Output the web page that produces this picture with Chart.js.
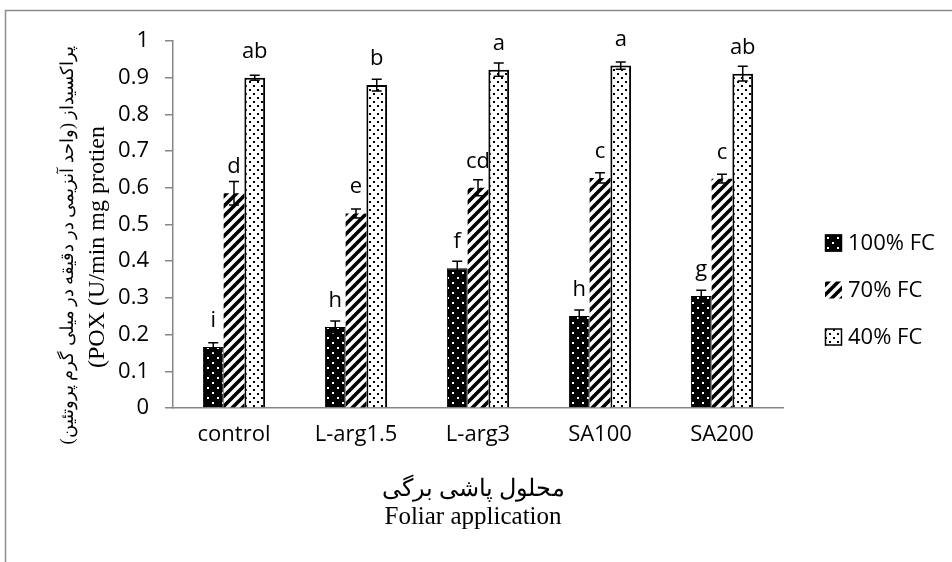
<!DOCTYPE html>
<html lang="en">
<head>
<meta charset="UTF-8">
<title>POX activity</title>
<style>
  body { margin: 0; background: #fff; }
  #chart { display: block; }
</style>
</head>
<body>
<canvas id="chart" width="952" height="562"></canvas>
<script src="https://cdn.jsdelivr.net/npm/chart.js"></script>
<script>
// values
const categories = ['control', 'L-arg1.5', 'L-arg3', 'SA100', 'SA200'];
const seriesNames = ['100% FC', '70% FC', '40% FC'];
const fc100 = [0.166, 0.221, 0.381, 0.251, 0.305];
const fc100Err = [0.012, 0.016, 0.019, 0.016, 0.016];
const fc70 = [0.585, 0.53, 0.60, 0.627, 0.625];
const fc70Err = [0.032, 0.012, 0.022, 0.014, 0.012];
const fc40 = [0.90, 0.88, 0.922, 0.933, 0.911];
const fc40Err = [0.007, 0.016, 0.018, 0.01, 0.02];
const letters100 = ['i', 'h', 'f', 'h', 'g'];
const letters70 = ['d', 'e', 'cd', 'c', 'c'];
const letters40 = ['ab', 'b', 'a', 'a', 'ab'];
const yTickLabels = ['0', '0.1', '0.2', '0.3', '0.4', '0.5', '0.6', '0.7', '0.8', '0.9', '1'];

const yTitleFa = 'پراکسیداز (واحد آنزیمی در دقیقه در میلی گرم پروتئین)';
const yTitleEn = '(POX (U/min mg protien';
const xTitleFa = 'محلول پاشی برگی';
const xTitleEn = 'Foliar application';

const canvas = document.getElementById('chart');
const ctx = canvas.getContext('2d');

function makePattern(size, draw) {
    const c = document.createElement('canvas');
    c.width = size;
    c.height = size;
    draw(c.getContext('2d'), size);
    return ctx.createPattern(c, 'repeat');
}

// black with white dots
const darkDots = makePattern(10, (g, s) => {
    g.fillStyle = '#000';
    g.fillRect(0, 0, s, s);
    g.fillStyle = '#fff';
    g.fillRect(2, 2, 2, 2);
    g.fillRect(7, 7, 2, 2);
});
// wide upward diagonal
const hatch = makePattern(10, (g, s) => {
    g.fillStyle = '#fff';
    g.fillRect(0, 0, s, s);
    g.strokeStyle = '#000';
    g.lineWidth = 3.6;
    g.beginPath();
    g.moveTo(-2, s + 2); g.lineTo(s + 2, -2);
    g.moveTo(-2, 2); g.lineTo(2, -2);
    g.moveTo(s - 2, s + 2); g.lineTo(s + 2, s - 2);
    g.stroke();
});
// white with black dots
const lightDots = makePattern(8, (g, s) => {
    g.fillStyle = '#fff';
    g.fillRect(0, 0, s, s);
    g.fillStyle = '#000';
    g.fillRect(1, 1, 2, 2);
    g.fillRect(5, 5, 2, 2);
});

const errors = [fc100Err, fc70Err, fc40Err];
const letters = [letters100, letters70, letters40];
const legendFills = [darkDots, hatch, lightDots];
const tickFont = { family: 'Open Sans', size: 22 };

const extras = {
    id: 'extras',
    afterDatasetsDraw(chart) {
        const c = chart.ctx;
        const y = chart.scales.y;
        c.save();
        c.strokeStyle = '#000';
        c.lineWidth = 1.5;
        c.fillStyle = '#000';
        c.font = '22px "Open Sans"';
        c.textAlign = 'center';
        c.textBaseline = 'alphabetic';
        chart.data.datasets.forEach((ds, i) => {
            const meta = chart.getDatasetMeta(i);
            meta.data.forEach((bar, j) => {
                const v = ds.data[j];
                const e = errors[i][j];
                const top = y.getPixelForValue(v + e);
                const bot = y.getPixelForValue(v - e);
                c.beginPath();
                c.moveTo(bar.x, top); c.lineTo(bar.x, bot);
                c.moveTo(bar.x - 5, top); c.lineTo(bar.x + 5, top);
                c.moveTo(bar.x - 5, bot); c.lineTo(bar.x + 5, bot);
                c.stroke();
                c.fillText(letters[i][j], bar.x, y.getPixelForValue(v) - 20);
            });
        });
        c.restore();
    },
    afterDraw(chart) {
        const c = chart.ctx;
        c.save();
        // outer frame
        c.strokeStyle = '#8c8c8c';
        c.lineWidth = 1.5;
        c.beginPath();
        c.moveTo(5.5, 562); c.lineTo(5.5, 10.5); c.lineTo(952, 10.5);
        c.stroke();

        c.fillStyle = '#000';
        c.textAlign = 'center';
        c.textBaseline = 'middle';

        // y title, two lines rotated
        c.save();
        c.translate(68, 245);
        c.rotate(-Math.PI / 2);
        c.direction = 'rtl';
        c.font = '24px "Liberation Serif", serif';
        let w = c.measureText(yTitleFa).width;
        let fs = Math.min(24, 24 * 400 / w);
        c.font = fs + 'px "Liberation Serif", serif';
        c.fillText(yTitleFa, 0, 0);
        c.restore();

        c.save();
        c.translate(98, 247);
        c.rotate(-Math.PI / 2);
        c.font = '24px "Liberation Serif", serif';
        c.fillText(yTitleEn, 0, 0);
        c.restore();

        // x title
        c.save();
        c.direction = 'rtl';
        c.font = '24px "Liberation Serif", serif';
        c.fillText(xTitleFa, 473, 490);
        c.restore();
        c.font = '25px "Liberation Serif", serif';
        c.fillText(xTitleEn, 473, 517);

        // legend
        const ys = [243, 290, 337];
        c.textAlign = 'left';
        c.font = '22px "Open Sans"';
        seriesNames.forEach((name, i) => {
            const by = ys[i] - 8.5;
            c.fillStyle = legendFills[i];
            c.fillRect(825, by, 17, 17);
            if (i !== 1) {
                c.strokeStyle = '#000';
                c.lineWidth = 1.5;
                c.strokeRect(825.5, by + 0.5, 16, 16);
            }
            c.fillStyle = '#000';
            c.fillText(name, 848, ys[i] + 1);
        });
        c.restore();
    }
};

new Chart(ctx, {
    type: 'bar',
    data: {
        labels: categories,
        datasets: [
            { label: seriesNames[0], data: fc100, backgroundColor: darkDots, borderColor: '#000', borderWidth: 1,
              categoryPercentage: 0.51, barPercentage: 1 },
            { label: seriesNames[1], data: fc70, backgroundColor: hatch, borderWidth: 0,
              categoryPercentage: 0.51, barPercentage: 1 },
            { label: seriesNames[2], data: fc40, backgroundColor: lightDots, borderColor: '#000', borderWidth: 2,
              categoryPercentage: 0.51, barPercentage: 1 }
        ]
    },
    options: {
        responsive: false,
        animation: false,
        devicePixelRatio: 1,
        layout: { padding: { top: 41, right: 169, left: 0, bottom: 0 } },
        plugins: { legend: { display: false }, tooltip: { enabled: false } },
        scales: {
            x: {
                offset: true,
                grid: { display: false, drawTicks: false },
                border: { display: true, color: '#868686', width: 1.5 },
                ticks: { color: '#000', font: tickFont, padding: 14, maxRotation: 0 },
                afterFit(s) { s.height = 154; }
            },
            y: {
                min: 0,
                max: 1,
                grid: { drawOnChartArea: false, drawTicks: true, tickLength: 8, color: '#868686', lineWidth: 1.5 },
                border: { display: true, color: '#868686', width: 1.5 },
                ticks: { stepSize: 0.1, color: '#000', font: tickFont, padding: 16,
                         callback: (v, i) => yTickLabels[i] },
                afterFit(s) { s.width = 173; }
            }
        }
    },
    plugins: [extras]
});
</script>
</body>
</html>
